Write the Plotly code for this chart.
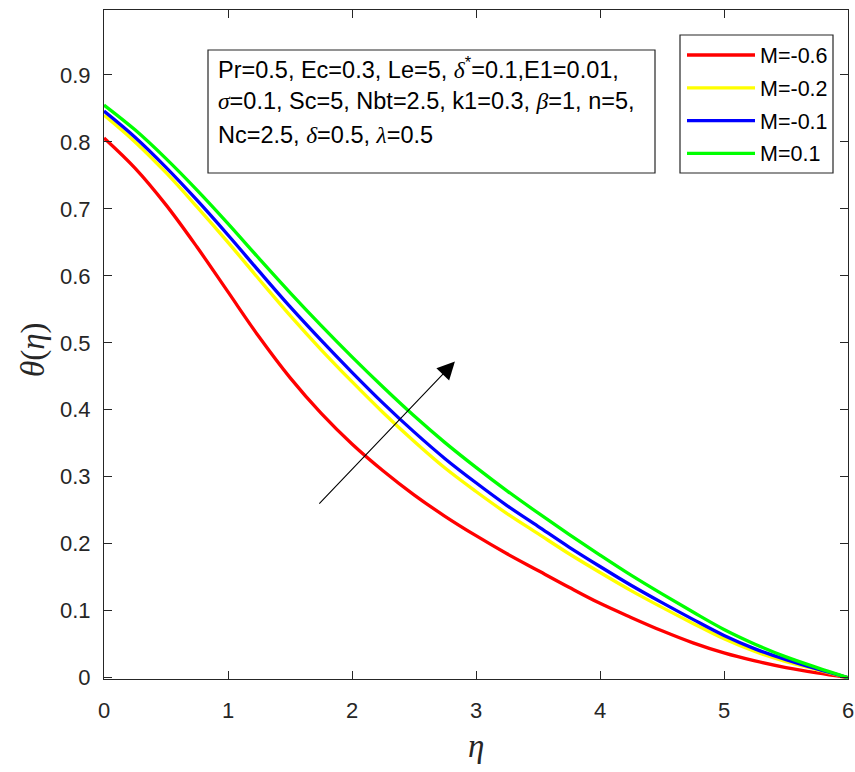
import plotly.graph_objects as go

# ---------------- data ----------------
eta = [0, 0.25, 0.5, 0.75, 1.0, 1.25, 1.5, 1.75, 2.0, 2.25, 2.5, 2.75, 3.0,
       3.25, 3.5, 3.75, 4.0, 4.25, 4.5, 4.75, 5.0, 5.25, 5.5, 5.75, 6.0]
theta_m06 = [0.806, 0.761, 0.706, 0.643, 0.576, 0.509, 0.448, 0.395, 0.349, 0.309, 0.273, 0.241, 0.212,
             0.185, 0.160, 0.135, 0.111, 0.090, 0.070, 0.052, 0.037, 0.025, 0.015, 0.007, 0.0]
theta_m02 = [0.840, 0.800, 0.754, 0.703, 0.650, 0.595, 0.541, 0.490, 0.442, 0.396, 0.353, 0.313, 0.278,
             0.245, 0.215, 0.185, 0.157, 0.130, 0.105, 0.081, 0.058, 0.039, 0.024, 0.012, 0.0]
theta_m01 = [0.846, 0.807, 0.762, 0.713, 0.661, 0.607, 0.554, 0.504, 0.456, 0.410, 0.367, 0.327, 0.291,
             0.257, 0.226, 0.195, 0.166, 0.138, 0.112, 0.087, 0.063, 0.043, 0.027, 0.013, 0.0]
theta_p01 = [0.855, 0.818, 0.775, 0.728, 0.678, 0.626, 0.575, 0.526, 0.479, 0.434, 0.391, 0.351, 0.314,
             0.279, 0.246, 0.214, 0.183, 0.153, 0.125, 0.098, 0.072, 0.050, 0.031, 0.015, 0.0]

series_names = ["M=-0.6", "M=-0.2", "M=-0.1", "M=0.1"]
series_vals = [theta_m06, theta_m02, theta_m01, theta_p01]
series_colors = ["#FF0000", "#FFFF00", "#0000FF", "#00FF00"]

x_ticks = [0, 1, 2, 3, 4, 5, 6]
y_ticks = [0, 0.1, 0.2, 0.3, 0.4, 0.5, 0.6, 0.7, 0.8, 0.9]
y_ticktext = ["0", "0.1", "0.2", "0.3", "0.4", "0.5", "0.6", "0.7", "0.8", "0.9"]

arrow_tail = (1.70, 0.253)
arrow_head = (2.83, 0.472)

SERIF = "'Liberation Serif', 'DejaVu Serif', serif"
def g(s):
    return f"<span style=\"font-family:{SERIF}\"><i>{s}</i></span>"

param_lines = [
    "Pr=0.5, Ec=0.3, Le=5, " + g("δ") + "<sup>*</sup>=0.1,E1=0.01,",
    g("σ") + "=0.1, Sc=5, Nbt=2.5, k1=0.3, " + g("β") + "=1, n=5,",
    "Nc=2.5, " + g("δ") + "=0.5, " + g("λ") + "=0.5",
]

# ---------------- layout geometry ----------------
W, H = 855, 772
L, R, T, B = 104, 7, 10, 93
PW, PH = W - L - R, H - T - B

def px(x):
    return (x - L) / PW

def py(y):
    return (H - B - y) / PH

AX = "#262626"
FONT = "Liberation Sans, Arial, sans-serif"

fig = go.Figure()
for name, vals, col in zip(series_names, series_vals, series_colors):
    fig.add_trace(go.Scatter(x=eta, y=vals, mode="lines", name=name,
                             line=dict(color=col, width=3.3, shape="spline", smoothing=1.0),
                             showlegend=False))

shapes = []
annotations = []

# arrow
annotations.append(dict(x=arrow_head[0], y=arrow_head[1], ax=arrow_tail[0], ay=arrow_tail[1],
                        xref="x", yref="y", axref="x", ayref="y", text=" ",
                        showarrow=True, arrowhead=2, arrowsize=3.2, arrowwidth=1.1,
                        arrowcolor="black", standoff=0))

# parameter box
shapes.append(dict(type="rect", xref="paper", yref="paper",
                   x0=px(208), x1=px(655), y0=py(173), y1=py(50),
                   line=dict(color=AX, width=1.2), fillcolor="white", layer="above"))
for i, t in enumerate(param_lines):
    annotations.append(dict(x=px(216), y=py(68 + 33.5 * i), xref="paper", yref="paper",
                            text=t, showarrow=False, xanchor="left", yanchor="middle",
                            font=dict(family=FONT, size=23.5, color="black")))

# legend box
shapes.append(dict(type="rect", xref="paper", yref="paper",
                   x0=px(680), x1=px(833), y0=py(173), y1=py(35),
                   line=dict(color=AX, width=1.2), fillcolor="white", layer="above"))
for i, (name, col) in enumerate(zip(series_names, series_colors)):
    yy = 55 + 32.8 * i
    shapes.append(dict(type="line", xref="paper", yref="paper",
                       x0=px(687), x1=px(755), y0=py(yy), y1=py(yy),
                       line=dict(color=col, width=3.3), layer="above"))
    annotations.append(dict(x=px(758), y=py(yy + 1), xref="paper", yref="paper",
                            text=name, showarrow=False, xanchor="left", yanchor="middle",
                            font=dict(family=FONT, size=21.5, color="black")))

# axis titles
annotations.append(dict(x=px(476), y=py(746), xref="paper", yref="paper",
                        text="<i>η</i>", showarrow=False, xanchor="center", yanchor="middle",
                        font=dict(family=SERIF, size=33, color=AX)))
annotations.append(dict(x=px(33), y=py(350), xref="paper", yref="paper",
                        text="<i>θ</i>(<i>η</i>)", showarrow=False, xanchor="center", yanchor="middle",
                        textangle=-90, font=dict(family=SERIF, size=33, color=AX)))

fig.update_layout(
    width=W, height=H,
    margin=dict(l=L, r=R, t=T, b=B, pad=0, autoexpand=False),
    paper_bgcolor="white", plot_bgcolor="white",
    shapes=shapes, annotations=annotations,
    font=dict(family=FONT, color=AX, size=20),
)
fig.update_xaxes(range=[0, 6], tickvals=x_ticks, ticks="inside", ticklen=8, tickwidth=1,
                 tickcolor=AX, showline=True, linecolor=AX, linewidth=1.2, mirror="ticks",
                 showgrid=False, zeroline=False, tickfont=dict(size=22, color=AX),
                 ticklabelstandoff=11, automargin=False)
fig.update_yaxes(range=[-0.002, 0.997], tickvals=y_ticks, ticktext=y_ticktext, ticks="inside",
                 ticklen=8, tickwidth=1, tickcolor=AX, showline=True, linecolor=AX, linewidth=1.2,
                 mirror="ticks", showgrid=False, zeroline=False, tickfont=dict(size=22, color=AX),
                 ticklabelstandoff=8, automargin=False)

fig.write_html("out.html")
